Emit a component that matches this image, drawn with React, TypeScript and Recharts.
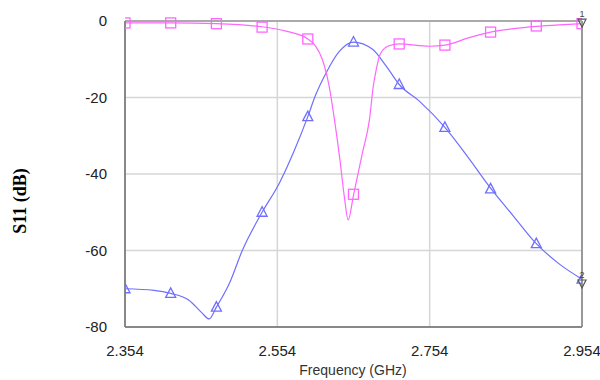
import React from 'react';
import { LineChart, Line, XAxis, YAxis, CartesianGrid, ReferenceLine, ReferenceDot } from 'recharts';

// Curve S11 (pink, squares) – frequency (GHz) and dB
const pinkFreq = [2.354, 2.414, 2.474, 2.534, 2.564, 2.594, 2.604, 2.613, 2.622, 2.629, 2.636, 2.642, 2.647, 2.654, 2.6658, 2.675, 2.680, 2.684, 2.688, 2.697, 2.708, 2.714, 2.754, 2.774, 2.807, 2.834, 2.864, 2.894, 2.924, 2.954];
const pinkDb = [-0.5, -0.5, -0.7, -1.5, -2.6, -4.7, -6.5, -10, -17, -25.8, -36, -46, -52, -45.5, -34.4, -25.7, -17, -12.6, -9.2, -6.8, -6.1, -6.0, -6.6, -6.3, -4.3, -2.9, -2.0, -1.4, -1.0, -0.7];

// Curve (blue, triangles)
const blueFreq = [2.354, 2.392, 2.414, 2.438, 2.455, 2.4645, 2.474, 2.4908, 2.508, 2.534, 2.5566, 2.576, 2.594, 2.604, 2.6185, 2.6356, 2.654, 2.679, 2.697, 2.714, 2.7408, 2.774, 2.804, 2.834, 2.864, 2.894, 2.924, 2.954];
const blueDb = [-70, -70.4, -71.2, -73, -76.3, -77.9, -74.8, -68.7, -60, -50, -42.4, -34, -25, -19.5, -13.4, -7.9, -5.5, -7.4, -11.8, -16.6, -21, -27.8, -35.5, -43.7, -51, -58.2, -63.5, -67.5];

// Marker positions
const markerFreq = [2.354, 2.414, 2.474, 2.534, 2.594, 2.654, 2.714, 2.774, 2.834, 2.894, 2.954];
const pinkMarkerDb = [-0.5, -0.5, -0.7, -1.6, -4.7, -45.3, -6.0, -6.3, -2.9, -1.3, -0.7];
const blueMarkerDb = [-70, -71.2, -74.8, -50, -25, -5.5, -16.6, -27.8, -43.9, -58.2, -67.5];

const xTicks = [2.354, 2.554, 2.754, 2.954];
const yTicks = [0, -20, -40, -60, -80];

// End annotation markers
const endMarkers = [
  { f: 2.954, v: -0.3, label: '1' },
  { f: 2.954, v: -68.5, label: '2' },
];

const PINK = '#ff66ff';
const BLUE = '#6f6fff';

const pinkData = pinkFreq.map((f, i) => ({ f, v: pinkDb[i] }));
const blueData = blueFreq.map((f, i) => ({ f, v: blueDb[i] }));
const pinkMarkers = markerFreq.map((f, i) => ({ f, v: pinkMarkerDb[i] }));
const blueMarkers = markerFreq.map((f, i) => ({ f, v: blueMarkerDb[i] }));

const Square = (props: any) => {
  const { cx, cy } = props;
  if (cx == null || cy == null) return null;
  return <rect key={`s-${cx}-${cy}`} x={cx - 5} y={cy - 5} width={10} height={10} fill="none" stroke={PINK} strokeWidth={1.3} />;
};

const Triangle = (props: any) => {
  const { cx, cy } = props;
  if (cx == null || cy == null) return null;
  const p = `${cx},${cy - 5.5} ${cx - 5},${cy + 4} ${cx + 5},${cy + 4}`;
  return <polygon key={`t-${cx}-${cy}`} points={p} fill="none" stroke={BLUE} strokeWidth={1.3} />;
};

const makeEnd = (label: string) => (props: any) => {
  const { cx, cy } = props;
  if (cx == null || cy == null) return null;
  const p = `${cx - 4},${cy - 3} ${cx + 4},${cy - 3} ${cx},${cy + 5}`;
  return (
    <g>
      <polygon points={p} fill="none" stroke="#555" strokeWidth={1.2} />
      <text x={cx} y={cy - 5} fontSize={9} textAnchor="middle" fill="#444" fontFamily="Liberation Sans, Arial, sans-serif">{label}</text>
    </g>
  );
};

export default function App() {
  return (
    <div style={{ position: 'absolute', left: 0, top: 0, width: 600, height: 380, background: '#fff' }}>
      <LineChart width={600} height={380} margin={{ top: 21, right: 18, left: 0, bottom: 23 }}>
        <CartesianGrid stroke="#d6d6d6" strokeWidth={1.5} />
        <XAxis
          dataKey="f"
          type="number"
          domain={[2.354, 2.954]}
          ticks={xTicks}
          allowDataOverflow
          height={30}
          tickSize={0}
          tickMargin={18}
          stroke="#888"
          strokeWidth={2}
          tick={{ fontSize: 15, fill: '#222', fontFamily: 'Liberation Sans, Arial, sans-serif' }}
          tickFormatter={(v: number) => v.toFixed(3)}
        />
        <YAxis
          dataKey="v"
          type="number"
          domain={[-80, 0]}
          ticks={yTicks}
          width={125}
          tickSize={0}
          tickMargin={18}
          stroke="#888"
          strokeWidth={2}
          tick={{ fontSize: 15, fill: '#222', fontFamily: 'Liberation Sans, Arial, sans-serif' }}
        />
        <ReferenceLine y={0} stroke="#aaa" strokeWidth={2} />
        <ReferenceLine x={2.954} stroke="#999" strokeWidth={2} />
        <Line data={blueData} dataKey="v" type="monotone" stroke={BLUE} strokeWidth={1.2} dot={false} activeDot={false} isAnimationActive={false} />
        <Line data={pinkData} dataKey="v" type="monotone" stroke={PINK} strokeWidth={1.2} dot={false} activeDot={false} isAnimationActive={false} />
        <Line data={blueMarkers} dataKey="v" stroke="none" dot={<Triangle />} activeDot={false} isAnimationActive={false} />
        <Line data={pinkMarkers} dataKey="v" stroke="none" dot={<Square />} activeDot={false} isAnimationActive={false} />
        {endMarkers.map((m) => (
          <ReferenceDot key={m.label} x={m.f} y={m.v} r={4} ifOverflow="visible" shape={makeEnd(m.label)} />
        ))}
      </LineChart>
      <div style={{ position: 'absolute', left: 253, width: 200, top: 362, textAlign: 'center', fontSize: 14, color: '#333', fontFamily: 'Liberation Sans, Arial, sans-serif' }}>
        Frequency (GHz)
      </div>
      <div style={{ position: 'absolute', left: 20, top: 201, width: 0, height: 0 }}>
        <div style={{ position: 'absolute', transform: 'translate(-50%, -50%) rotate(-90deg)', whiteSpace: 'nowrap', fontSize: 18, fontWeight: 'bold', fontFamily: 'Liberation Serif, Times New Roman, serif', color: '#000' }}>
          S11 (dB)
        </div>
      </div>
    </div>
  );
}
